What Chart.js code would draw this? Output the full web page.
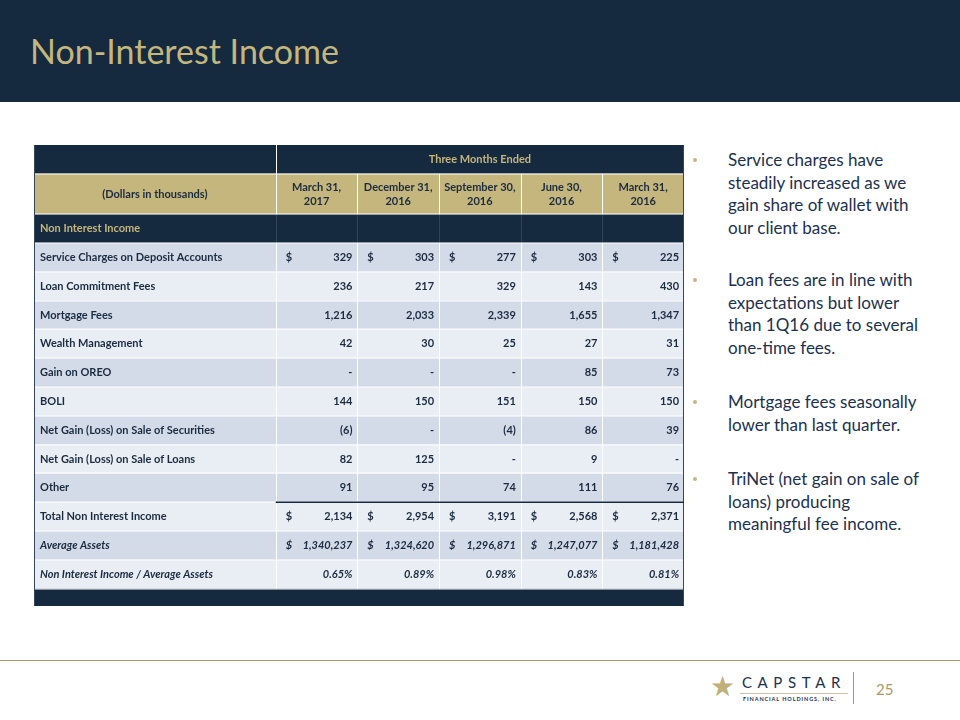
<!DOCTYPE html>
<html>
<head>
<meta charset="utf-8">
<script src="https://cdn.jsdelivr.net/npm/chart.js@4.4.1/dist/chart.umd.min.js"></script>
<style>
body{margin:0;width:960px;height:720px;background:#fff;position:relative;overflow:hidden;font-family:Lato,sans-serif}
#head{position:absolute;left:0;top:0;width:960px;height:102px;background:#15293f}
#head h1{position:absolute;left:30px;top:31px;margin:0;font-weight:400;font-size:34px;line-height:40px;color:#c4b67c}
#table{position:absolute;left:34px;top:145px}
.bul{position:absolute;left:693px;color:#1c3150;font-size:17px;line-height:22.5px}
.bul span{position:absolute;left:0;top:9px;width:4px;height:4px;border-radius:2px;background:#c2b588}
.bul div{margin-left:35px;white-space:nowrap}
#rule{position:absolute;left:0;top:660px;width:960px;height:1px;background:#a89a62}
#logo{position:absolute;left:710px;top:672px;height:34px}
#star{position:absolute;left:0;top:-2px;font-size:28px;color:#c0b07a;font-family:"DejaVu Sans"}
#cap{position:absolute;left:32px;top:1px;font-size:15px;letter-spacing:5.6px;color:#1c3150;font-weight:400}
#capline{position:absolute;left:30px;top:21px;width:108px;height:1px;background:#c9c2a6}
#fin{position:absolute;left:33px;top:24px;font-size:5.5px;letter-spacing:0.9px;font-weight:700;color:#1c3150;white-space:nowrap}
#sep{position:absolute;left:143px;top:0;width:1px;height:32px;background:#a89a62}
#page{position:absolute;left:876px;top:680px;font-size:15px;color:#a89a62}
</style>
</head>
<body>

<div id="head"><h1>Non-Interest Income</h1></div>

<canvas id="table" width="650" height="461"></canvas>

<div class="bul" style="top:149px"><span></span><div>Service charges have<br>steadily increased as we<br>gain share of wallet with<br>our client base.</div></div>
<div class="bul" style="top:269px"><span></span><div>Loan fees are in line with<br>expectations but lower<br>than 1Q16 due to several<br>one-time fees.</div></div>
<div class="bul" style="top:391px"><span></span><div>Mortgage fees seasonally<br>lower than last quarter.</div></div>
<div class="bul" style="top:468px"><span></span><div>TriNet (net gain on sale of<br>loans) producing<br>meaningful fee income.</div></div>

<div id="rule"></div>
<div id="logo">
    <div id="star">★</div>
    <div id="cap">CAPSTAR</div>
    <div id="capline"></div>
    <div id="fin">FINANCIAL HOLDINGS, INC.</div>
    <div id="sep"></div>
</div>
<div id="page">25</div>

<script>

const periods = [
    ["March 31,", "2017"],
    ["December 31,", "2016"],
    ["September 30,", "2016"],
    ["June 30,", "2016"],
    ["March 31,", "2016"]
]

const rowLabels = [
    "Service Charges on Deposit Accounts",
    "Loan Commitment Fees",
    "Mortgage Fees",
    "Wealth Management",
    "Gain on OREO",
    "BOLI",
    "Net Gain (Loss) on Sale of Securities",
    "Net Gain (Loss) on Sale of Loans",
    "Other",
    "Total Non Interest Income",
    "Average Assets",
    "Non Interest Income / Average Assets"
]

// null = "-" in the source table
const mar17 = [329, 236, 1216, 42, null, 144, -6, 82, 91, 2134, 1340237, 0.65]
const dec16 = [303, 217, 2033, 30, null, 150, null, 125, 95, 2954, 1324620, 0.89]
const sep16 = [277, 329, 2339, 25, null, 151, -4, null, 74, 3191, 1296871, 0.98]
const jun16 = [303, 143, 1655, 27, 85, 150, 86, 9, 111, 2568, 1247077, 0.83]
const mar16 = [225, 430, 1347, 31, 73, 150, 39, null, 76, 2371, 1181428, 0.81]

const series = [mar17, dec16, sep16, jun16, mar16]

const dollarRows = [0, 9, 10]
const italicRows = [10, 11]
const percentRow = 11

// table grid in scale units
const colEdges = [0, 2.96, 3.96, 4.96, 5.96, 6.96, 7.96]
const firstRow = 3.4

const navy = "#15293f"
const gold = "#c4b67c"
const ink = "#1b2b40"

function fmt(v, row){

    if(v === null) return "-"
    if(row === percentRow) return v.toFixed(2) + "%"

    const s = Math.abs(v).toLocaleString("en-US")

    return v < 0 ? "(" + s + ")" : s
}

const tablePlugin = {

    id: "table",

    beforeDatasetsDraw(chart){

        const {ctx, scales: {x, y}} = chart
        const X = v => x.getPixelForValue(v)
        const Y = v => y.getPixelForValue(v)
        const right = colEdges[colEdges.length - 1]

        const box = (x0, x1, y0, y1, color) => {
            ctx.fillStyle = color
            ctx.fillRect(X(x0), Y(y0), X(x1) - X(x0), Y(y1) - Y(y0))
        }

        box(0, right, 0, 1, navy)
        box(0, right, 1, 2.4, gold)
        box(0, right, 2.4, firstRow, navy)

        rowLabels.forEach((r, i) => {
            box(0, right, firstRow + i, firstRow + i + 1, i % 2 ? "#e9edf4" : "#d4dbe8")
        })

        box(0, right, firstRow + rowLabels.length, 16, navy)

        ctx.lineWidth = 1

        // white cell lines
        ctx.strokeStyle = "#ffffff"
        ctx.beginPath()

        for(let i = 1; i < colEdges.length - 1; i++){
            const px = Math.round(X(colEdges[i])) + 0.5
            ctx.moveTo(px, i === 1 ? Y(0) : Y(1))
            ctx.lineTo(px, Y(1))
            ctx.moveTo(px, Y(1))
            ctx.lineTo(px, Y(2.4))
            ctx.moveTo(px, Y(firstRow))
            ctx.lineTo(px, Y(firstRow + rowLabels.length))
        }

        for(let i = 0; i <= rowLabels.length; i++){
            const py = Math.round(Y(firstRow + i))
            ctx.moveTo(X(0), py)
            ctx.lineTo(X(right), py)
        }

        ctx.moveTo(X(0), Math.round(Y(1)))
        ctx.lineTo(X(right), Math.round(Y(1)))
        ctx.moveTo(X(0), Math.round(Y(2.4)))
        ctx.lineTo(X(right), Math.round(Y(2.4)))
        ctx.stroke()

        // faint lines in the section row
        ctx.strokeStyle = "rgba(255,255,255,0.12)"
        ctx.beginPath()
        for(let i = 1; i < colEdges.length - 1; i++){
            const px = Math.round(X(colEdges[i])) + 0.5
            ctx.moveTo(px, Y(2.4))
            ctx.lineTo(px, Y(firstRow))
        }
        ctx.stroke()

        // outer border
        ctx.strokeStyle = "#34475e"
        ctx.beginPath()
        ctx.moveTo(X(0) + 0.5, Y(0))
        ctx.lineTo(X(0) + 0.5, Y(16))
        ctx.moveTo(X(right) - 0.5, Y(0))
        ctx.lineTo(X(right) - 0.5, Y(16))
        ctx.stroke()

        // total rule under "Other"
        ctx.strokeStyle = navy
        ctx.lineWidth = 1.5
        ctx.beginPath()
        ctx.moveTo(X(colEdges[1]), Y(firstRow + 9))
        ctx.lineTo(X(right), Y(firstRow + 9))
        ctx.stroke()
    },

    afterDatasetsDraw(chart){

        const {ctx, scales: {x, y}} = chart
        const X = v => x.getPixelForValue(v)
        const Y = v => y.getPixelForValue(v)

        ctx.textBaseline = "middle"
        ctx.font = "bold 11px Lato"

        ctx.fillStyle = gold
        ctx.textAlign = "center"
        ctx.fillText("Three Months Ended", (X(colEdges[1]) + X(colEdges[6])) / 2, Y(0.5))

        ctx.textAlign = "left"
        ctx.fillText("Non Interest Income", X(0) + 6, Y(2.9))

        ctx.fillStyle = ink
        ctx.textAlign = "center"
        ctx.fillText("(Dollars in thousands)", (X(colEdges[0]) + X(colEdges[1])) / 2, Y(1.7))

        periods.forEach((p, j) => {
            const cx = (X(colEdges[j + 1]) + X(colEdges[j + 2])) / 2
            ctx.fillText(p[0], cx, Y(1.7) - 7)
            ctx.fillText(p[1], cx, Y(1.7) + 7)
        })

        rowLabels.forEach((r, i) => {
            ctx.font = (italicRows.includes(i) ? "italic " : "") + "bold 11px Lato"
            ctx.textAlign = "left"
            ctx.fillText(r, X(0) + 6, Y(firstRow + i + 0.5))
        })

        chart.data.datasets.forEach((ds, j) => {

            chart.getDatasetMeta(j).data.forEach((pt, i) => {

                ctx.font = (italicRows.includes(i) ? "italic " : "") + "bold 11px Lato"
                ctx.textAlign = "right"
                ctx.fillText(fmt(series[j][i], i), pt.x, pt.y)

                if(dollarRows.includes(i)){
                    ctx.textAlign = "left"
                    ctx.fillText("$", X(colEdges[j + 1]) + 10, pt.y)
                }
            })
        })
    }
}

new Chart(document.getElementById("table"), {

    type: "scatter",

    data: {
        datasets: series.map((vals, j) => ({
            label: periods[j].join(" "),
            data: vals.map((v, i) => ({x: colEdges[j + 2] - 0.06, y: firstRow + i + 0.5})),
            pointRadius: 0
        }))
    },

    options: {

        responsive: false,

        animation: false,

        layout: {padding: 0},

        plugins: {
            legend: {display: false},
            tooltip: {enabled: false}
        },

        scales: {
            x: {type: "linear", min: 0, max: colEdges[colEdges.length - 1], display: false},
            y: {type: "linear", min: 0, max: 16, reverse: true, display: false}
        }
    },

    plugins: [tablePlugin]
})

</script>
</body>
</html>
